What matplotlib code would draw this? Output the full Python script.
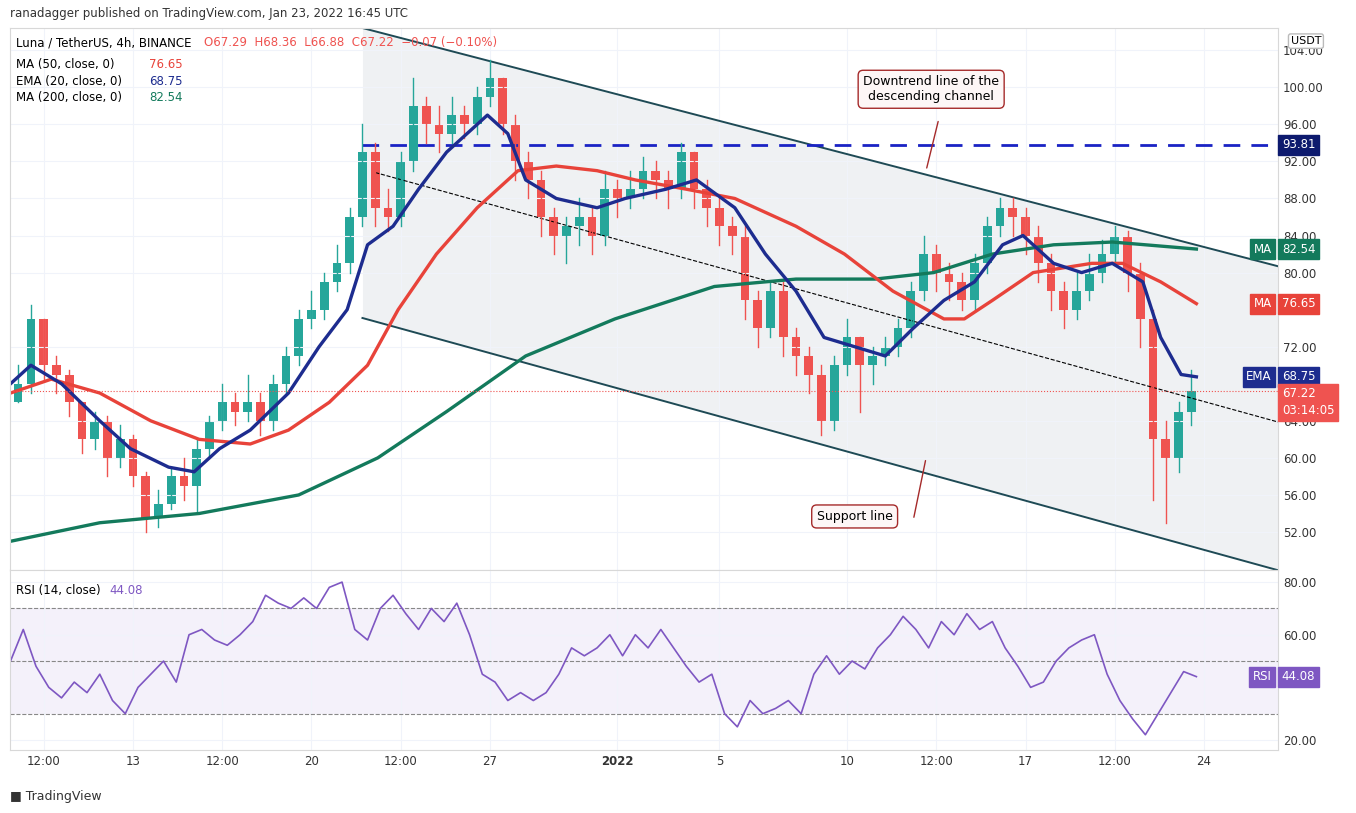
import numpy as np, matplotlib.pyplot as plt
from matplotlib.patches import Rectangle
plt.rcParams['font.family']='DejaVu Sans'
# 12h candles from Dec 8 12:00 (day 0.5) to Jan 23 12:00: (close, high, low)
bars=[(68,70,66),(75,76.5,67),(70,75,68.5),(69,71,67),(66,69.5,64.5),(62,66,60.5),(64,65,61),(60,64.5,58),(62,63.5,59),(58,62.5,57),
(53.5,58.5,52),(55,56.5,52.5),(58,59,54.5),(57,60,55.5),(61,62,54),(64,64.5,60),(66,68,63),(65,67,63.5),(66,69,64),(64,67,62.5),
(68,69,63),(71,72,67),(75,76,70),(76,78,74),(79,80,75),(81,83,78),(86,87,80),(93,96,85),(87,94,85),(86,89,84.5),
(92,93,85),(98,101,91),(96,99,94),(95,98,93),(97,99,94),(96,98,94.5),(99,100,95),(101,103,98),(96,101,95),(92,97,90),
(90,93,88),(86,91,84),(84,87,82),(85,86,81),(86,88,83),(84,87,82),(89,91,83),(88,90,86),(89,91,87),(91,92.5,88),
(90,92,88),(89,91,87),(93,94,88),(89,93,87),(87,90,85),(85,88,83),(84,86,82),(77,85,75),(74,78,72),(78,79,73),
(73,79,71),(71,74,69),(69,72,67),(64,70,62.5),(70,71,63),(73,75,69),(70,73,65),(71,72,68),(72,73,70),(74,75,71),
(78,79,73),(82,84,77),(80,83,78),(79,81,77),(77,80,76),(81,82,76),(85,86,80),(87,88,84),(86,88,84),(84,87,82),
(81,85,79),(78,82,76),(76,79,74),(78,80,75),(80,82,77),(82,83.5,79),(84,85,81),(80,84.5,78),(75,81,72),(62,76,55.5),
(60,64,53),(65,66,58.5),(67.22,69.5,63.5)]
days=np.arange(len(bars))*0.5+0.5
ema20=[(0.2,68),(1.0,70),(2.2,68),(3.7,64),(4.9,61),(6.4,59),(7.4,58.5),(8.4,61),(9.6,63),(11.1,67),(12.3,72),(13.4,76),(14.2,83),(15.2,85),
(16.2,89),(17.3,93),(18.9,97),(19.7,95),(20.4,90),(21.6,88),(23.2,87),(24.3,88),(25.9,89),(27.1,90),(28.6,87),(29.8,82),(31.0,78),(32.1,73),
(33.3,72),(34.5,71),(35.6,74),(36.8,77),(38.0,79),(39.1,83),(39.9,84),(41.1,81),(42.2,80),(43.4,81),(44.6,79),(45.3,73),(46.1,69),(46.7,68.75)]
ma50=[(0.2,67),(1.8,68.5),(3.7,67),(5.7,64),(7.6,62),(9.6,61.5),(11.1,63),(12.7,66),(14.2,70),(15.4,76),(16.9,82),(18.5,87),(20.1,91),(21.6,91.5),
(23.2,91),(24.7,90),(26.7,89),(28.6,88),(31.0,85),(32.9,82),(34.8,78),(36.8,75),(37.6,75),(38.7,77),(40.3,80),(42.6,81),(43.8,81),(45.3,79),(46.7,76.65)]
ma200=[(0.2,51),(3.7,53),(7.6,54),(11.5,56),(14.6,60),(17.3,65),(20.4,71),(23.9,75),(27.8,78.5),(31.0,79.3),(34.1,79.3),(36.4,80),(38.7,82),
(41.1,83),(43.4,83.3),(46.7,82.54)]
rsi=[50,62,48,40,36,42,38,45,35,30,40,45,50,42,60,62,58,56,60,65,75,72,70,74,70,78,80,62,58,70,75,68,62,70,65,72,60,45,42,35,38,35,38,45,55,52,55,
60,52,60,55,62,55,48,42,45,30,25,35,30,32,35,30,45,52,45,50,47,55,60,67,62,55,65,60,68,62,65,55,48,40,42,50,55,58,60,45,35,28,22,30,38,46,44.08]
fig=plt.figure(figsize=(13.56,8.13),dpi=100)
ax=fig.add_axes([10/1356,243/813,1268/1356,542/813]); ax2=fig.add_axes([10/1356,63/813,1268/1356,180/813],sharex=ax)
for a in (ax,ax2):
    a.yaxis.tick_right(); a.tick_params(length=0,labelsize=8.5,colors='#333333')
    for s in a.spines.values(): s.set_color('#d8d8d8')
    a.grid(color='#f0f3fa',lw=0.8)
x0=0.18; x1=49.9
yt=[52,56,60,64,72,80,84,88,92,96,100,104]  # 68 and 76 sit under the price boxes
ax.set_xlim(x0,x1); ax.set_ylim(47.9,106.4); ax.set_yticks(yt); ax.set_yticklabels([f'{v:.2f}' for v in yt])
# descending channel
up=lambda d: 106.4+(80.9-106.4)*(d-14.0)/(49.6-14.0); lo=lambda d: 75.1+(48.1-75.1)*(d-14.0)/(49.6-14.0)
dd=np.array([14.0,x1]); ax.fill_between(dd,up(dd),lo(dd),color='#e9ecef',alpha=0.7,lw=0)
ax.plot(dd,up(dd),color='#1e4a55',lw=1.4); ax.plot(dd,lo(dd),color='#1e4a55',lw=1.4)
ax.plot([14.5,x1],[90.8,64.1-(x1-49.6)*0.75],'k--',lw=0.8)
ax.plot([14.0,x1],[93.81,93.81],color='#1a23c4',ls=(0,(6,4)),lw=2)
prev=bars[0][0]-2
for d,(c,h,l) in zip(days,bars):
    col='#26a69a' if c>=prev else '#ef5350'
    ax.plot([d,d],[l,h],color=col,lw=1)
    ax.add_patch(Rectangle((d-0.17,min(prev,c)),0.34,max(abs(c-prev),0.15),color=col,lw=0)); prev=c
for pts,col in ((ma200,'#137a5c'),(ma50,'#e8433a'),(ema20,'#1d2c8f')):
    ax.plot(*zip(*pts),color=col,lw=2.4)
ax.axhline(67.22,color='#ef5350',ls=':',lw=0.8)
box=dict(boxstyle='round,pad=0.4',fc='#fdf6f6',ec='#a52a2a')
ax.text(36.3,98.6,'Downtrend line of the\ndescending channel',fontsize=9,ha='center',bbox=box)
ax.annotate('',xy=(36.1,91),xytext=(36.6,96.6),arrowprops=dict(arrowstyle='-',color='#a52a2a'))
ax.text(33.3,53.3,'Support line',fontsize=9,ha='center',bbox=box)
ax.annotate('',xy=(36.1,60),xytext=(35.6,53.3),arrowprops=dict(arrowstyle='-',color='#a52a2a'))
for y,t,fc in ((93.81,'93.81','#0d1a6e'),(82.54,'82.54','#137a5c'),(76.65,'76.65','#e8433a'),(68.75,'68.75','#1d2c8f')):
    ax.text(1.003,(y-47.9)/58.5,t,transform=ax.transAxes,fontsize=8.5,color='w',va='center',bbox=dict(boxstyle='square,pad=0.3',fc=fc,ec=fc))
ax.text(1.003,(66.0-47.9)/58.5,'67.22\n03:14:05',transform=ax.transAxes,fontsize=8.5,color='w',va='center',linespacing=1.4,bbox=dict(boxstyle='square,pad=0.3',fc='#ef5350',ec='#ef5350'))
for y,t,fc in ((82.54,'MA','#137a5c'),(76.65,'MA','#e8433a'),(68.75,'EMA','#1d2c8f')):
    ax.text(0.995,(y-47.9)/58.5,t,transform=ax.transAxes,fontsize=8.5,color='w',va='center',ha='right',bbox=dict(boxstyle='square,pad=0.3',fc=fc,ec=fc))
ax.text(1.01,0.985,'USDT',transform=ax.transAxes,fontsize=8,va='top',bbox=dict(boxstyle='round,pad=0.2',fc='w',ec='#bbbbbb'))
ax.text(0.005,0.985,'Luna / TetherUS, 4h, BINANCE',transform=ax.transAxes,fontsize=8.5,va='top')
ax.text(0.153,0.985,'O67.29  H68.36  L66.88  C67.22  −0.07 (−0.10%)',transform=ax.transAxes,fontsize=8.5,va='top',color='#ef5350')
for i,(t,v,c) in enumerate((('MA (50, close, 0)','76.65','#e8433a'),('EMA (20, close, 0)','68.75','#1d2c8f'),('MA (200, close, 0)','82.54','#137a5c'))):
    ax.text(0.005,0.945-i*0.031,t,transform=ax.transAxes,fontsize=8.5,va='top'); ax.text(0.11,0.945-i*0.031,v,transform=ax.transAxes,fontsize=8.5,va='top',color=c)
ax.tick_params(labelbottom=False)
# RSI
ax2.set_ylim(16.2,84.6); ax2.set_yticks([20,60,80]); ax2.set_yticklabels(['20.00','60.00','80.00'])
ax2.axhspan(30,70,color='#7e57c2',alpha=0.08,lw=0)
for y in (30,50,70): ax2.axhline(y,color='#888888',ls='--',lw=0.8)
ax2.plot(np.linspace(0.2,46.7,len(rsi)),rsi,color='#7e57c2',lw=1.2)
ax2.text(0.005,0.92,'RSI (14, close)',transform=ax2.transAxes,fontsize=8.5,va='top'); ax2.text(0.078,0.92,'44.08',transform=ax2.transAxes,fontsize=8.5,va='top',color='#7e57c2')
ax2.text(1.003,(44.08-16.2)/68.4,'44.08',transform=ax2.transAxes,fontsize=8.5,color='w',va='center',bbox=dict(boxstyle='square,pad=0.3',fc='#7e57c2',ec='#7e57c2'))
ax2.text(0.995,(44.08-16.2)/68.4,'RSI',transform=ax2.transAxes,fontsize=8.5,color='w',va='center',ha='right',bbox=dict(boxstyle='square,pad=0.3',fc='#7e57c2',ec='#7e57c2'))
ticks=[1.5,5,8.5,12,15.5,19,24,28,33,36.5,40,43.5,47]
ax2.set_xticks(ticks); ax2.set_xticklabels(['12:00','13','12:00','20','12:00','27','2022','5','10','12:00','17','12:00','24'])
ax2.get_xticklabels()[6].set_fontweight('bold')
fig.text(10/1356,1-14/813,'ranadagger published on TradingView.com, Jan 23, 2022 16:45 UTC',fontsize=8.5,va='center',color='#333333')
fig.text(10/1356,1-796/813,'\u25a0 TradingView',fontsize=9,va='center',color='#333333')
plt.savefig('out.png',dpi=100)
